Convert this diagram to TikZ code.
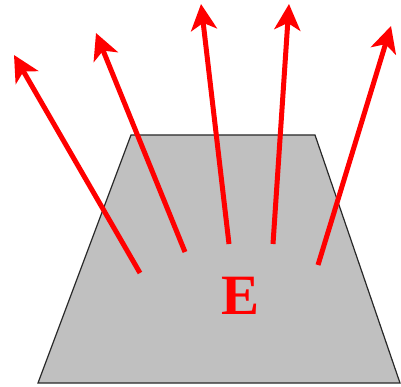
\documentclass[tikz,border=0pt]{standalone}
\usepackage{fontspec}
\setmainfont{Liberation Serif}
\usetikzlibrary{arrows.meta}
\begin{document}
\begin{tikzpicture}[x=1pt,y=-1pt,
  ray/.style={draw=red,line width=5pt,-{Stealth[length=26pt,width=26pt,inset=7pt]}},
  slab/.style={fill={rgb,255:red,192;green,192;blue,192},draw={rgb,255:red,40;green,40;blue,40},line width=1.2pt}]
\useasboundingbox (0,0) rectangle (401,387);
\draw[slab] (131,135) coordinate (tl) -- (315,135) coordinate (tr) -- (400,383) coordinate (br) -- (38,383) coordinate (bl) -- cycle;
\coordinate (s1) at (140,273); \coordinate (e1) at (14,55);
\coordinate (s2) at (185,252); \coordinate (e2) at (96,33);
\coordinate (s3) at (229,244); \coordinate (e3) at (201,4);
\coordinate (s4) at (273,244); \coordinate (e4) at (289,4);
\coordinate (s5) at (318,265); \coordinate (e5) at (391,26);
\foreach \i in {1,...,5} \draw[ray] (s\i) -- (e\i);
\node[text=red,font=\fontsize{57}{60}\selectfont\bfseries] (E) at (241,296) {E};
\end{tikzpicture}
\end{document}
